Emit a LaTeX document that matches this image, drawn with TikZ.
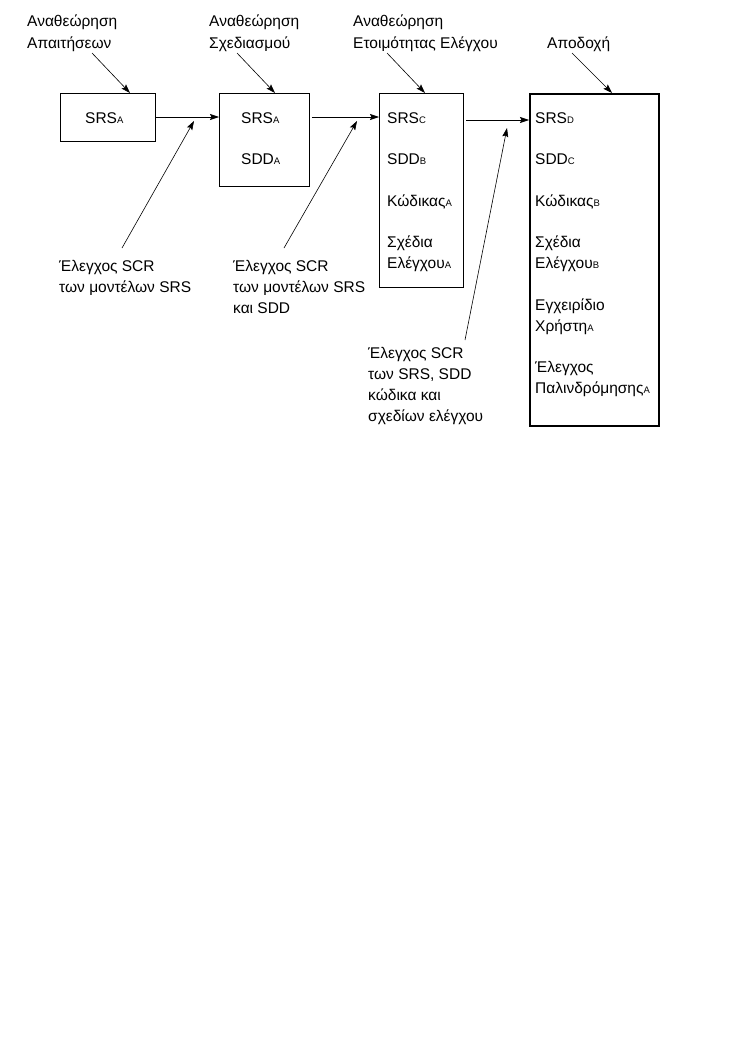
\documentclass[tikz,border=0pt]{standalone}
\usepackage{fontspec}
\setmainfont{Liberation Sans}
\usetikzlibrary{arrows.meta}
\newcommand\sbs[1]{{\fontsize{9.5}{9.5}\selectfont #1}}
\begin{document}
\begin{tikzpicture}[x=1pt,y=-1pt,
  every node/.style={font=\fontsize{15.5}{21}\selectfont},
  lbl/.style={anchor=base west,inner sep=0pt,align=left},
  box/.style={draw,line width=0.8pt,anchor=north west,inner sep=0pt},
  arr/.style={line width=0.6pt,-{Stealth[length=9pt,width=6pt,inset=1.5pt]}}]
\useasboundingbox (0,0) rectangle (744,1052);
% boxes
\node[box,minimum width=95pt,minimum height=48pt] (b1) at (60,93) {};
\node[box,minimum width=90pt,minimum height=93pt] (b2) at (219,93) {};
\node[box,minimum width=84pt,minimum height=194pt] (b3) at (379,93) {};
\node[box,line width=1.8pt,minimum width=129pt,minimum height=332pt] (b4) at (529,93) {};
% box contents (anchor = baseline of last line)
\node[lbl] (b1a) at (85,123) {SRS\sbs{A}};
\node[lbl] (b2a) at (241,123) {SRS\sbs{A}};
\node[lbl] (b2b) at (241,164) {SDD\sbs{A}};
\node[lbl] (b3a) at (387,123) {SRS\sbs{C}};
\node[lbl] (b3b) at (387,164) {SDD\sbs{B}};
\node[lbl] (b3c) at (387,206) {Κώδικας\sbs{A}};
\node[lbl] (b3d) at (387,268) {Σχέδια\\Ελέγχου\sbs{A}};
\node[lbl] (b4a) at (535,123) {SRS\sbs{D}};
\node[lbl] (b4b) at (535,164) {SDD\sbs{C}};
\node[lbl] (b4c) at (535,206) {Κώδικας\sbs{B}};
\node[lbl] (b4d) at (535,268) {Σχέδια\\Ελέγχου\sbs{B}};
\node[lbl] (b4e) at (535,331) {Εγχειρίδιο\\Χρήστη\sbs{A}};
\node[lbl] (b4f) at (535,393) {Έλεγχος\\Παλινδρόμησης\sbs{A}};
% top labels
\node[lbl] (t1) at (27,48) {Αναθεώρηση\\Απαιτήσεων};
\node[lbl] (t2) at (209,48) {Αναθεώρηση\\Σχεδιασμού};
\node[lbl] (t3) at (353,48) {Αναθεώρηση\\Ετοιμότητας Ελέγχου};
\node[lbl] (t4) at (547,48) {Αποδοχή};
% bottom labels
\node[lbl] (l1) at (59,292) {Έλεγχος SCR\\των μοντέλων SRS};
\node[lbl] (l2) at (233,313) {Έλεγχος SCR\\των μοντέλων SRS\\και SDD};
\node[lbl] (l3) at (368,421) {Έλεγχος SCR\\των SRS, SDD\\κώδικα και\\σχεδίων ελέγχου};
% free ends
\coordinate (s1) at (92,53);  \coordinate (e1) at (130,93);
\coordinate (s2) at (237,53); \coordinate (e2) at (275,93);
\coordinate (s3) at (387,53); \coordinate (e3) at (425,93);
\coordinate (s4) at (572,53); \coordinate (e4) at (612,93);
\coordinate (s5) at (122,248); \coordinate (e5) at (194,121);
\coordinate (s6) at (284,248); \coordinate (e6) at (357,121);
\coordinate (s7) at (465,340); \coordinate (e7) at (507,128);
\coordinate (h3) at (466,120);
% connectors
\draw[arr] (s1) -- (e1);
\draw[arr] (s2) -- (e2);
\draw[arr] (s3) -- (e3);
\draw[arr] (s4) -- (e4);
\draw[arr] (b1.east |- 0,117) -- (b2.west |- 0,117);
\draw[arr] ([xshift=2pt]b2.east |- 0,117) -- (b3.west |- 0,117);
\draw[arr] (h3) -- (b4.west |- h3);
\draw[arr] (s5) -- (e5);
\draw[arr] (s6) -- (e6);
\draw[arr] (s7) -- (e7);
\end{tikzpicture}
\end{document}
